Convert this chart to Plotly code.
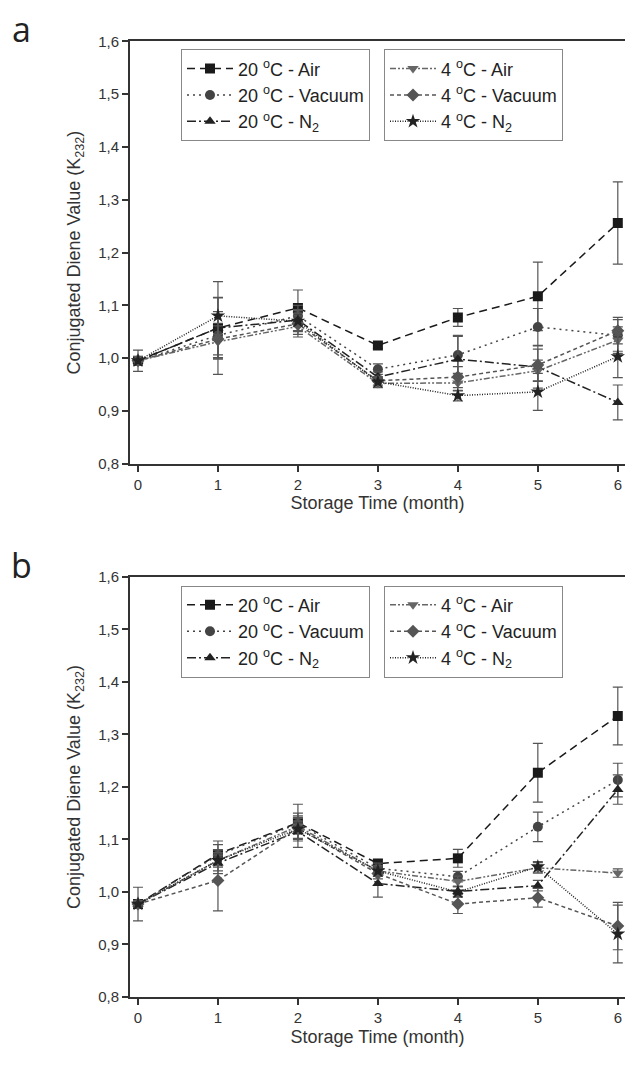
import plotly.graph_objects as go

months = [0, 1, 2, 3, 4, 5, 6]

series_names = [
    "20 <sup>o</sup>C - Air",
    "20 <sup>o</sup>C - Vacuum",
    "20 <sup>o</sup>C - N<sub>2</sub>",
    "4 <sup>o</sup>C - Air",
    "4 <sup>o</sup>C - Vacuum",
    "4 <sup>o</sup>C - N<sub>2</sub>",
]

# Panel a values and error bars
a_20_air = [0.995, 1.057, 1.095, 1.024, 1.077, 1.117, 1.256]
a_20_air_err = [0.020, 0.088, 0.034, 0.006, 0.017, 0.065, 0.078]
a_20_vac = [0.995, 1.043, 1.080, 0.979, 1.006, 1.059, 1.043]
a_20_vac_err = [0.008, 0.045, 0.020, 0.010, 0.035, 0.035, 0.030]
a_20_n2 = [0.995, 1.057, 1.072, 0.964, 0.998, 0.983, 0.916]
a_20_n2_err = [0.008, 0.057, 0.020, 0.010, 0.045, 0.040, 0.033]
a_4_air = [0.995, 1.031, 1.060, 0.952, 0.953, 0.976, 1.034]
a_4_air_err = [0.008, 0.030, 0.020, 0.008, 0.015, 0.020, 0.025]
a_4_vac = [0.995, 1.036, 1.065, 0.957, 0.964, 0.987, 1.052]
a_4_vac_err = [0.008, 0.030, 0.020, 0.008, 0.020, 0.030, 0.025]
a_4_n2 = [0.995, 1.080, 1.070, 0.955, 0.929, 0.936, 1.003]
a_4_n2_err = [0.008, 0.035, 0.020, 0.008, 0.010, 0.035, 0.040]

# Panel b values and error bars
b_20_air = [0.977, 1.072, 1.132, 1.054, 1.064, 1.227, 1.335]
b_20_air_err = [0.032, 0.025, 0.035, 0.008, 0.017, 0.056, 0.055]
b_20_vac = [0.977, 1.070, 1.130, 1.045, 1.029, 1.124, 1.213]
b_20_vac_err = [0.006, 0.020, 0.020, 0.010, 0.010, 0.028, 0.032]
b_20_n2 = [0.977, 1.055, 1.115, 1.016, 1.001, 1.012, 1.195]
b_20_n2_err = [0.006, 0.020, 0.030, 0.026, 0.010, 0.010, 0.028]
b_4_air = [0.977, 1.060, 1.125, 1.040, 1.020, 1.046, 1.036]
b_4_air_err = [0.006, 0.010, 0.010, 0.010, 0.010, 0.010, 0.008]
b_4_vac = [0.977, 1.022, 1.122, 1.035, 0.977, 0.989, 0.935]
b_4_vac_err = [0.006, 0.058, 0.020, 0.010, 0.018, 0.018, 0.045]
b_4_n2 = [0.977, 1.060, 1.120, 1.040, 1.000, 1.048, 0.920]
b_4_n2_err = [0.006, 0.020, 0.020, 0.010, 0.010, 0.010, 0.055]

y_ticks = [0.8, 0.9, 1.0, 1.1, 1.2, 1.3, 1.4, 1.5, 1.6]
x_ticks = [0, 1, 2, 3, 4, 5, 6]
x_title = "Storage Time (month)"
y_title = "Conjugated Diene Value (K<sub>232</sub>)"

styles = [
    dict(color="#1a1a1a", dash="8px,5px", symbol="square", mcolor="#1a1a1a"),
    dict(color="#444444", dash="2px,4px", symbol="circle", mcolor="#444444"),
    dict(color="#222222", dash="9px,3px,2px,3px", symbol="triangle-up", mcolor="#222222"),
    dict(color="#666666", dash="6px,2px,2px,2px,2px,2px", symbol="triangle-down", mcolor="#666666"),
    dict(color="#555555", dash="4px,3px", symbol="diamond", mcolor="#555555"),
    dict(color="#222222", dash="1px,1.5px", symbol="star", mcolor="#222222"),
]

W, H = 625, 1067
FONT = "Liberation Sans, Arial, sans-serif"

fig = go.Figure()

panels = [
    ("x", "y", [a_20_air, a_20_vac, a_20_n2, a_4_air, a_4_vac, a_4_n2],
     [a_20_air_err, a_20_vac_err, a_20_n2_err, a_4_air_err, a_4_vac_err, a_4_n2_err],
     ["legend", "legend", "legend", "legend2", "legend2", "legend2"]),
    ("x2", "y2", [b_20_air, b_20_vac, b_20_n2, b_4_air, b_4_vac, b_4_n2],
     [b_20_air_err, b_20_vac_err, b_20_n2_err, b_4_air_err, b_4_vac_err, b_4_n2_err],
     ["legend3", "legend3", "legend3", "legend4", "legend4", "legend4"]),
]

for pi, (xa, ya, vals, errs, legs) in enumerate(panels):
    for i in range(6):
        st = styles[i]
        fig.add_trace(go.Scatter(
            x=months, y=vals[i], name=series_names[i], xaxis=xa, yaxis=ya,
            mode="lines+markers", legend=legs[i], legendgroup=f"p{pi}s{i}",
            line=dict(color=st["color"], width=1.5, dash=st["dash"]),
            marker=dict(symbol=st["symbol"], size=10 if st["symbol"] != "star" else 11,
                        color=st["mcolor"], line=dict(width=0)),
            error_y=dict(type="data", array=errs[i], visible=True,
                         color="#555555", thickness=1.2, width=5),
        ))

def py(p):
    return 1 - p / H

axis_common = dict(showline=True, linecolor="#333333", linewidth=2, ticks="outside",
                   ticklen=6, tickwidth=1.5, tickcolor="#333333", showgrid=False,
                   zeroline=False, tickfont=dict(size=15, color="#333333", family=FONT))

x_dom = [130 / W, 1.0]
fig.update_layout(
    width=W, height=H, margin=dict(l=0, r=0, t=0, b=0),
    paper_bgcolor="white", plot_bgcolor="white", separators=",.",
    font=dict(family=FONT, color="#222222"),
    xaxis=dict(domain=x_dom, anchor="y", range=[-0.1, 6.09], tickvals=x_ticks, mirror=True,
               title=dict(text=x_title, font=dict(size=18, color="#333333"), standoff=5), **axis_common),
    yaxis=dict(domain=[py(462), py(33)], anchor="x", range=[0.8, 1.6],
               tickvals=y_ticks, tickformat=".1f", **axis_common),
    xaxis2=dict(domain=x_dom, anchor="y2", range=[-0.1, 6.09], tickvals=x_ticks, mirror=True,
                title=dict(text=x_title, font=dict(size=18, color="#333333"), standoff=5), **axis_common),
    yaxis2=dict(domain=[py(1004), py(577)], anchor="x2", range=[0.8, 1.6],
                tickvals=y_ticks, tickformat=".1f", **axis_common),
)

leg_common = dict(xanchor="left", yanchor="top", bordercolor="#888888", borderwidth=1,
                  bgcolor="white", font=dict(size=18, family=FONT, color="#222222"),
                  tracegroupgap=0, itemwidth=46)
fig.update_layout(
    legend=dict(x=181 / W, y=py(41), **leg_common),
    legend2=dict(x=384 / W, y=py(41), **leg_common),
    legend3=dict(x=181 / W, y=py(586), **leg_common),
    legend4=dict(x=384 / W, y=py(586), **leg_common),
)

letter_font = dict(size=34, family="Open Sans, sans-serif", color="#222222")
title_font = dict(size=18, color="#333333", family=FONT)
annotations = [
    dict(text="a", x=21 / W, y=py(20), xref="paper", yref="paper", xanchor="center",
         yanchor="middle", showarrow=False, font=letter_font),
    dict(text="b", x=21 / W, y=py(565), xref="paper", yref="paper", xanchor="center",
         yanchor="middle", showarrow=False, font=letter_font),
    dict(text=y_title, x=76 / W, y=py((33 + 462) / 2), xref="paper", yref="paper",
         xanchor="center", yanchor="middle", textangle=-90, showarrow=False, font=title_font),
    dict(text=y_title, x=76 / W, y=py((577 + 1004) / 2), xref="paper", yref="paper",
         xanchor="center", yanchor="middle", textangle=-90, showarrow=False, font=title_font),
]
fig.update_layout(annotations=annotations)

fig.write_html("out.html")
